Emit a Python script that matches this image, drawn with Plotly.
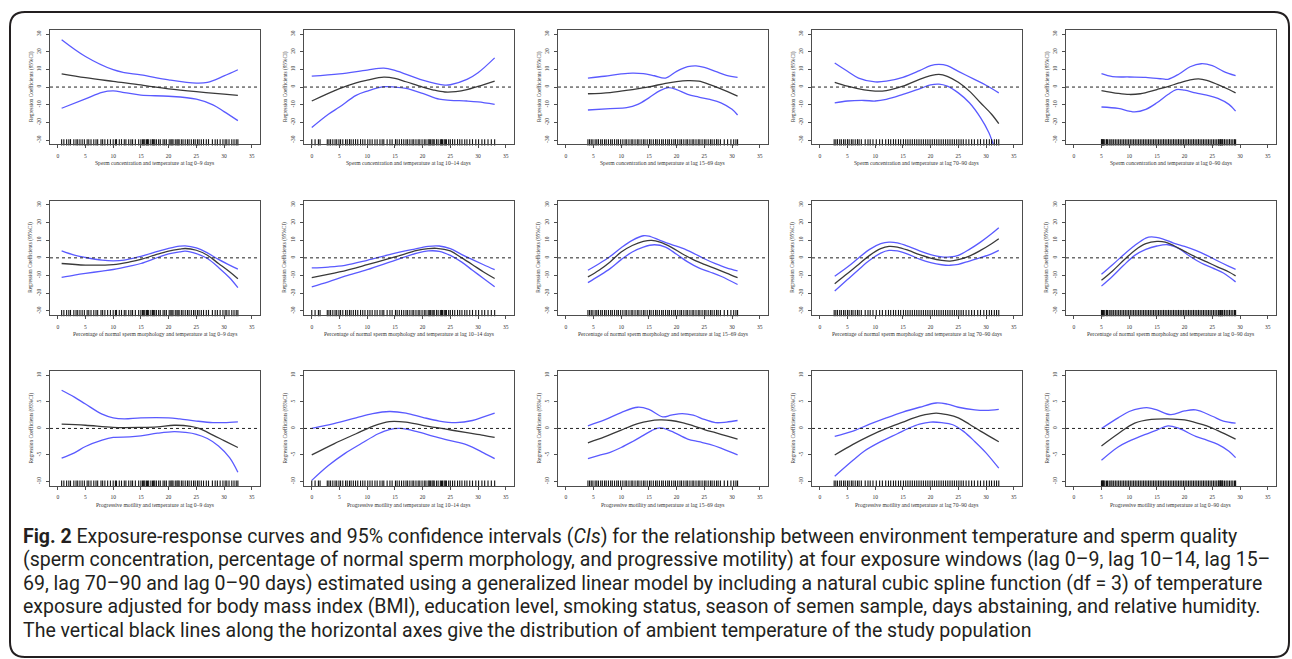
import plotly.graph_objects as go

# ---------------- data ----------------
X_TICKS = [0, 5, 10, 15, 20, 25, 30, 35]
Y_TICKS_WIDE = [-30, -20, -10, 0, 10, 20, 30]
Y_TICKS_MOT = [-10, -5, 0, 5, 10]

LAG_LABELS = ["lag 0–9 days", "lag 10–14 days", "lag 15–69 days", "lag 70–90 days", "lag 0–90 days"]
OUTCOME_LABELS = ["Sperm concentration", "Percentage of normal sperm morphology", "Progressive motility"]
Y_TITLE = "Regression Coefficients (95%CI)"

# rug: observed temperatures per exposure window
rug_lag0_9 = [0.7, 1.1, 1.6, 2.0, 2.3, 2.9, 3.3, 3.6, 4.0, 4.4, 4.8, 5.3, 5.6, 6.0, 6.5, 6.9, 7.2, 7.8, 8.1,
              8.5, 9.0, 9.5, 10.0, 10.4, 10.6, 11.1, 11.5, 12.0, 12.3, 12.8, 13.2, 13.5, 14.0, 14.6, 15.0,
              15.3, 15.5, 15.7, 16.0, 16.2, 16.4, 16.8, 17.1, 17.3, 17.5, 17.8, 18.2, 18.5, 19.0, 19.3, 19.6,
              20.1, 20.4, 20.6, 20.8, 21.2, 21.5, 21.7, 21.9, 22.3, 22.6, 23.0, 23.4, 23.7, 24.1, 24.5,
              24.8, 25.2, 25.5, 25.9, 26.3, 26.8, 27.2, 27.9, 28.4, 28.8, 29.3, 29.8, 30.2, 30.5, 30.9,
              31.4, 31.8, 32.2, 32.5]
rug_lag10_14 = [0.0, 0.6, 1.2, 1.5, 2.8, 3.1, 3.4, 3.8, 4.2, 4.5, 4.9, 5.2, 5.6, 6.1, 6.4, 6.8, 7.1, 7.5,
                7.9, 8.3, 8.8, 9.2, 9.6, 10.1, 10.5, 10.9, 11.4, 11.8, 12.3, 12.7, 13.0, 13.6, 14.1, 14.5,
                15.1, 15.4, 15.8, 16.2, 16.6, 17.0, 17.3, 17.7, 18.1, 18.4, 18.8, 19.2, 19.5, 19.9, 20.3,
                20.6, 21.0, 21.2, 21.4, 21.7, 21.9, 22.1, 22.5, 22.8, 23.2, 23.4, 23.6, 23.9, 24.1, 24.3,
                24.7, 25.0, 25.4, 25.8, 26.3, 26.7, 27.1, 27.6, 28.0, 28.5, 29.0, 29.6, 30.1, 30.7, 31.2,
                31.8, 32.4, 33.0]
rug_lag15_69 = [4.0, 4.3, 4.6, 4.9, 5.3, 5.6, 5.9, 6.3, 6.6, 7.0, 7.3, 7.7, 8.1, 8.4, 8.8, 9.2, 9.5, 9.9,
                10.3, 10.7, 11.0, 11.4, 11.8, 12.1, 12.5, 12.9, 13.2, 13.6, 14.0, 14.3, 14.7, 15.1, 15.4,
                15.8, 16.2, 16.5, 16.9, 17.3, 17.6, 18.0, 18.4, 18.7, 19.1, 19.5, 19.8, 20.2, 20.6, 20.9,
                21.3, 21.7, 22.0, 22.4, 22.8, 23.1, 23.5, 23.9, 24.2, 24.6, 25.0, 25.3, 25.7, 26.1, 26.4,
                26.8, 27.2, 27.5, 27.9, 28.6, 29.2, 29.8, 30.3, 30.7, 31.0]
rug_lag70_90 = [2.6, 2.9, 3.2, 3.6, 3.9, 4.3, 4.6, 5.0, 5.3, 5.7, 6.0, 6.4, 6.8, 7.1, 7.5, 8.2, 8.7, 9.1,
                9.6, 10.2, 10.8, 11.3, 11.9, 12.4, 12.8, 13.3, 13.7, 14.2, 14.6, 15.1, 15.5, 15.9, 16.3,
                16.7, 17.1, 17.5, 17.9, 18.3, 18.7, 19.1, 19.5, 19.9, 20.3, 20.7, 21.1, 21.5, 21.9, 22.3,
                22.7, 23.1, 23.5, 23.9, 24.3, 24.7, 25.1, 25.5, 25.9, 26.4, 26.9, 27.4, 27.9, 28.5, 29.0,
                29.6, 30.1, 30.6, 31.0, 31.5, 31.9, 32.3]
rug_lag0_90 = [5.0, 5.1, 5.2, 5.3, 5.4, 5.6, 5.9, 6.1, 6.4, 6.7, 6.9, 7.2, 7.5, 7.8, 8.1, 8.4, 8.7, 9.0, 9.3,
               9.6, 9.9, 10.2, 10.5, 10.8, 11.1, 11.4, 11.7, 12.0, 12.3, 12.6, 12.9, 13.2, 13.5, 13.8, 14.1,
               14.4, 14.7, 15.0, 15.3, 15.6, 15.9, 16.2, 16.5, 16.8, 17.1, 17.4, 17.7, 18.0, 18.3, 18.6,
               18.9, 19.2, 19.5, 19.8, 20.1, 20.4, 20.7, 21.0, 21.3, 21.6, 21.9, 22.2, 22.5, 22.8, 23.1,
               23.4, 23.7, 24.0, 24.3, 24.6, 24.9, 25.2, 25.5, 25.8, 26.1, 26.2, 26.4, 26.5, 26.6, 26.8,
               26.9, 27.2, 27.5, 27.8, 28.1, 28.4, 28.7, 29.0, 29.2]
RUGS = [rug_lag0_9, rug_lag10_14, rug_lag15_69, rug_lag70_90, rug_lag0_90]

# ---- Row 1: sperm concentration ----
conc_lag0_9 = dict(
    upper=([0.7, 5, 10, 12, 15, 20, 25, 27, 30, 32.5], [26.8, 17.3, 9.8, 8.2, 6.9, 4.1, 2.2, 2.6, 6.3, 9.8]),
    fit=([0.7, 5, 10, 15, 17, 20, 25, 30, 32.5], [7.5, 5.3, 3.2, 1.2, 0.2, -1.0, -2.6, -4.0, -4.7]),
    lower=([0.7, 5, 8, 10, 12, 15, 20, 25, 28, 30, 32.5], [-12.0, -6.7, -3.0, -2.2, -3.1, -4.6, -5.2, -6.9, -10.1, -13.9, -19.0]),
)
conc_lag10_14 = dict(
    upper=([0, 5, 10, 13, 15, 20, 24, 25, 28, 30, 33], [6.2, 7.5, 9.6, 10.7, 9.4, 3.9, 1.1, 1.3, 4.3, 8.1, 16.5]),
    fit=([0, 5, 8, 10, 13, 15, 17, 20, 22, 24, 26, 28, 30, 33], [-7.9, -0.9, 2.4, 3.9, 5.6, 4.9, 3.0, 0.0, -1.7, -2.8, -2.6, -1.5, 0.4, 3.4]),
    lower=([0, 3, 5, 8, 10, 13, 15, 17, 20, 23, 25, 28, 30, 33], [-22.9, -15.4, -11.3, -4.7, -2.3, 0.2, 0.0, -0.8, -3.6, -6.9, -7.5, -7.9, -8.4, -9.8]),
)
conc_lag15_69 = dict(
    upper=([4, 7, 10, 12, 14, 16, 18, 20, 22, 23.5, 25, 27, 29, 31], [5.1, 6.1, 7.4, 7.9, 7.6, 6.4, 5.1, 8.9, 11.5, 12.0, 11.1, 8.9, 6.6, 5.5]),
    fit=([4, 8, 12, 15, 18, 20, 22, 24, 26, 28, 31], [-3.8, -3.1, -1.4, 0.1, 2.1, 3.1, 3.6, 3.3, 1.4, -1.0, -5.1]),
    lower=([4, 8, 11, 13, 15, 17, 18.5, 20, 22, 24, 26, 28, 30, 31], [-13.0, -12.2, -11.7, -9.8, -6.1, -2.0, -0.3, -1.4, -4.2, -5.7, -7.0, -8.9, -12.6, -15.8]),
)
conc_lag70_90 = dict(
    upper=([2.7, 5, 7, 10, 12, 15, 18, 20, 21.5, 23, 25, 28, 30, 32.3], [13.6, 8.9, 5.1, 2.9, 3.3, 5.5, 9.3, 12.1, 12.8, 12.1, 8.9, 4.2, 1.0, -3.3]),
    fit=([2.7, 5, 8, 10, 12, 15, 18, 20, 21.5, 23, 25, 27, 29, 31, 32.3], [2.7, 0.5, -1.6, -2.3, -2.0, 0.5, 4.4, 6.4, 7.2, 6.1, 2.7, -2.3, -8.9, -15.4, -20.7]),
    lower=([2.7, 5, 8, 10, 12, 15, 18, 20, 21.5, 23, 25, 27, 29, 30.5, 31.3, 32.3], [-8.9, -7.9, -7.6, -7.9, -7.0, -4.2, -1.0, 1.2, 1.6, 0.5, -3.3, -8.9, -17.3, -25.7, -32.2, -40.0]),
)
conc_lag0_90 = dict(
    upper=([5, 7, 10, 13, 16, 17, 19, 21, 23, 25, 27, 29.2], [7.6, 5.9, 5.7, 5.5, 4.6, 4.4, 7.4, 11.5, 13.2, 12.1, 8.9, 6.4]),
    fit=([5, 8, 10, 12, 15, 17, 19, 21, 22.5, 24, 26, 28, 29.2], [-2.0, -3.6, -4.2, -3.8, -1.4, 0.3, 2.3, 4.0, 4.6, 3.8, 1.4, -1.4, -3.3]),
    lower=([5, 8, 10, 11, 13, 15, 17, 18.5, 20, 22, 24, 26, 28, 29.2], [-11.3, -12.1, -13.6, -14.1, -12.6, -8.9, -4.2, -1.4, -1.8, -3.3, -4.6, -6.4, -9.8, -13.6]),
)

# ---- Row 2: normal morphology ----
morph_lag0_9 = dict(
    upper=([0.7, 3, 5, 8, 10, 12, 15, 18, 20, 22, 23, 25, 27, 29, 31, 32.5], [3.9, 1.5, 0.2, -1.3, -1.7, -1.3, 0.9, 3.6, 5.3, 6.6, 6.8, 5.6, 2.8, -0.9, -4.1, -6.4]),
    fit=([0.7, 5, 10, 13, 15, 18, 20, 22, 23, 25, 27, 29, 31, 32.5], [-3.2, -4.1, -3.8, -2.3, -0.9, 2.1, 3.8, 4.9, 5.3, 4.3, 1.5, -3.2, -7.9, -11.8]),
    lower=([0.7, 3, 5, 8, 10, 13, 15, 18, 20, 22, 23, 25, 27, 29, 31, 32.5], [-11.1, -9.8, -8.8, -7.5, -6.6, -4.7, -3.2, 0.2, 2.3, 3.4, 3.8, 2.4, -0.4, -5.4, -11.3, -16.9]),
)
morph_lag10_14 = dict(
    upper=([0, 3, 6, 10, 14, 18, 21, 23, 25, 27, 29, 31, 33], [-5.7, -5.2, -4.2, -1.4, 1.8, 4.6, 6.5, 6.7, 5.2, 2.0, -1.0, -3.9, -6.7]),
    fit=([0, 5, 10, 15, 19, 21, 22.5, 25, 27, 29, 31, 33], [-11.2, -8.0, -3.9, 0.5, 4.2, 5.2, 5.4, 3.9, 0.1, -3.9, -8.0, -11.7]),
    lower=([0, 3, 6, 10, 15, 19, 21, 23, 25, 27, 29, 31, 33], [-16.4, -13.6, -10.4, -6.7, -1.4, 2.7, 3.9, 3.7, 1.4, -2.3, -7.0, -11.7, -16.4]),
)
morph_lag15_69 = dict(
    upper=([4, 6, 8, 10, 12, 14, 15, 17, 19, 21, 23, 25, 27, 29, 31], [-7.0, -3.3, 0.8, 5.7, 9.9, 12.5, 12.3, 9.9, 7.6, 5.5, 2.7, -0.5, -3.3, -5.7, -7.4]),
    fit=([4, 6, 8, 10, 12, 14, 15.5, 17, 19, 21, 23, 25, 27, 29, 31], [-10.8, -7.0, -2.3, 3.3, 7.0, 9.3, 9.9, 8.9, 6.1, 2.3, -1.0, -3.7, -6.1, -8.6, -11.2]),
    lower=([4, 6, 8, 10, 12, 14, 16, 18, 20, 22, 24, 26, 28, 31], [-14.0, -10.2, -6.1, -1.0, 3.3, 6.1, 7.4, 6.1, 2.0, -2.3, -5.7, -8.0, -10.4, -15.1]),
)
morph_lag70_90 = dict(
    upper=([2.7, 5, 7, 9, 11, 12.5, 14, 16, 18, 20, 22, 23.5, 25, 27, 29, 31, 32.3], [-10.4, -5.2, -0.1, 4.8, 8.0, 8.9, 8.5, 6.5, 3.9, 1.8, 0.5, 0.5, 1.4, 4.8, 8.9, 13.6, 17.0]),
    fit=([2.7, 5, 7, 9, 11, 12.5, 14, 16, 18, 20, 22, 23.5, 25, 27, 29, 31, 32.3], [-14.6, -8.9, -3.7, 1.4, 5.2, 6.5, 6.1, 4.2, 1.8, -0.1, -1.4, -1.8, -1.0, 1.0, 4.2, 8.0, 10.8]),
    lower=([2.7, 5, 7, 9, 11, 12.5, 14, 16, 18, 20, 22, 23.5, 25, 27, 29, 31, 32.3], [-18.7, -12.3, -6.7, -1.4, 2.7, 4.2, 3.9, 2.0, -0.7, -2.7, -3.9, -4.2, -3.7, -1.8, 0.1, 2.3, 4.2]),
)
morph_lag0_90 = dict(
    upper=([5, 7, 9, 11, 13, 14, 16, 18, 20, 22, 24, 26, 28, 29.2], [-9.3, -3.9, 1.8, 7.0, 11.2, 11.9, 10.8, 8.4, 6.5, 4.2, 1.4, -1.8, -4.8, -6.5]),
    fit=([5, 7, 9, 11, 13, 15, 16.5, 18, 20, 22, 24, 26, 28, 29.2], [-12.7, -7.4, -1.4, 4.2, 8.0, 9.3, 8.9, 7.0, 3.7, 0.5, -2.3, -5.2, -8.0, -10.2]),
    lower=([5, 7, 9, 11, 13, 15, 17, 19, 21, 23, 25, 27, 29.2], [-16.0, -10.4, -4.2, 1.4, 4.8, 6.7, 7.4, 5.2, 0.8, -2.9, -5.7, -8.6, -13.6]),
)

# ---- Row 3: progressive motility ----
mot_lag0_9 = dict(
    upper=([0.7, 3, 5, 8, 10, 12, 15, 20, 22, 25, 28, 30, 32.5], [7.2, 5.9, 4.6, 2.7, 2.0, 1.8, 2.0, 2.0, 1.8, 1.4, 1.1, 1.1, 1.25]),
    fit=([0.7, 5, 10, 15, 18, 21, 24, 25.5, 28, 30, 32.5], [0.8, 0.6, 0.2, 0.2, 0.3, 0.6, 0.4, 0.0, -1.25, -2.3, -3.6]),
    lower=([0.7, 3, 5, 8, 10, 13, 15, 18, 21, 23, 25, 27, 29, 31, 32.5], [-5.6, -4.6, -3.4, -2.2, -1.7, -1.6, -1.4, -0.9, -0.6, -0.75, -1.1, -1.9, -3.3, -5.5, -8.25]),
)
mot_lag10_14 = dict(
    upper=([0, 4, 8, 11, 14, 17, 20, 23, 26, 29, 31, 33], [0.0, 0.9, 2.0, 2.8, 3.2, 2.9, 2.1, 1.4, 1.1, 1.5, 2.2, 2.9]),
    fit=([0, 4, 8, 11, 14, 17, 20, 24, 28, 31, 33], [-5.0, -2.9, -1.0, 0.4, 1.3, 1.2, 0.6, -0.1, -0.8, -1.3, -1.7]),
    lower=([0, 3, 6, 9, 12, 14, 16, 19, 22, 25, 28, 31, 33], [-9.8, -7.0, -4.7, -2.8, -1.0, -0.2, 0.0, -0.6, -1.5, -2.3, -3.1, -4.6, -5.7]),
)
mot_lag15_69 = dict(
    upper=([4, 7, 10, 13, 15, 17.5, 19, 21, 23, 25, 27, 29, 31], [0.5, 1.6, 3.0, 4.0, 3.6, 2.2, 2.5, 2.8, 2.5, 1.7, 1.1, 1.2, 1.5]),
    fit=([4, 7, 10, 13, 15, 17, 19, 21, 23, 25, 27, 29, 31], [-2.7, -1.6, -0.3, 0.9, 1.4, 1.6, 1.5, 1.1, 0.5, -0.2, -0.8, -1.4, -2.0]),
    lower=([4, 6, 8, 10, 12, 14, 15.5, 17, 19, 22, 24, 26, 28, 31], [-5.7, -5.1, -4.5, -3.6, -2.5, -1.3, -0.4, 0.1, -0.5, -2.0, -2.5, -3.0, -3.7, -5.0]),
)
mot_lag70_90 = dict(
    upper=([2.7, 6, 9, 12, 15, 18, 21, 23, 25, 28, 30, 32.3], [-1.5, -0.5, 0.8, 2.0, 3.1, 4.0, 4.8, 4.6, 4.0, 3.5, 3.4, 3.6]),
    fit=([2.7, 6, 9, 12, 15, 17, 19, 21, 23, 25, 27, 29, 32.3], [-5.0, -3.0, -1.4, 0.0, 1.2, 2.0, 2.6, 2.9, 2.6, 2.0, 0.8, -0.5, -2.5]),
    lower=([2.7, 6, 8, 11, 14, 16, 18, 20, 22, 24, 26, 28, 30, 32.3], [-9.0, -6.0, -4.3, -2.5, -1.0, 0.0, 0.8, 1.2, 1.1, 0.7, -0.6, -2.5, -4.6, -7.5]),
)
mot_lag0_90 = dict(
    upper=([5, 8, 10, 12, 13.5, 15, 17.5, 20, 22, 25, 27, 29.2], [0.0, 2.0, 3.2, 3.8, 3.9, 3.5, 2.6, 3.3, 3.5, 2.3, 1.4, 1.0]),
    fit=([5, 8, 11, 14, 17, 20, 22, 24, 26, 29.2], [-3.3, -1.0, 1.0, 1.7, 1.8, 1.6, 1.1, 0.5, -0.4, -2.0]),
    lower=([5, 8, 10, 12, 15, 17, 19, 22, 24, 26, 28, 29.2], [-6.0, -3.5, -2.4, -1.5, -0.3, 0.5, 0.0, -1.5, -2.2, -3.0, -4.3, -5.5]),
)

PANELS = [
    [conc_lag0_9, conc_lag10_14, conc_lag15_69, conc_lag70_90, conc_lag0_90],
    [morph_lag0_9, morph_lag10_14, morph_lag15_69, morph_lag70_90, morph_lag0_90],
    [mot_lag0_9, mot_lag10_14, mot_lag15_69, mot_lag70_90, mot_lag0_90],
]
ROW_YTICKS = [Y_TICKS_WIDE, Y_TICKS_WIDE, Y_TICKS_MOT]

CAPTION_LINES = [
    "<b>Fig. 2</b> Exposure-response curves and 95% confidence intervals (<i>CIs</i>) for the relationship between environment temperature and sperm quality",
    "(sperm concentration, percentage of normal sperm morphology, and progressive motility) at four exposure windows (lag 0–9, lag 10–14, lag 15–",
    "69, lag 70–90 and lag 0–90 days) estimated using a generalized linear model by including a natural cubic spline function (df = 3) of temperature",
    "exposure adjusted for body mass index (BMI), education level, smoking status, season of semen sample, days abstaining, and relative humidity.",
    "The vertical black lines along the horizontal axes give the distribution of ambient temperature of the study population",
]

# ---------------- layout geometry (pixels) ----------------
W, H = 1292, 659
COL_LEFT = [50, 304, 558, 812, 1066]
PANEL_W = 209.5
ROW_TOP = [29.8, 200.6, 371.2]
PANEL_H = 114.5

SERIF = "Liberation Serif, Times New Roman, serif"
BLUE = "#5a5aff"
FITC = "#3a3a3a"
FRAME = "#4d4d4d"

fig = go.Figure()
layout = dict(
    width=W, height=H, margin=dict(l=0, r=0, t=0, b=0),
    paper_bgcolor="white", plot_bgcolor="white", showlegend=False,
    annotations=[], shapes=[],
)

def px2x(p):
    return p / W

def px2y(p):
    return 1 - p / H

for r in range(3):
    yt = ROW_YTICKS[r]
    span = yt[-1] - yt[0]
    ylo, yhi = yt[0] - 0.04 * span, yt[-1] + 0.04 * span
    for c in range(5):
        k = r * 5 + c + 1
        xs = "x" if k == 1 else f"x{k}"
        ys = "y" if k == 1 else f"y{k}"
        xa = "xaxis" if k == 1 else f"xaxis{k}"
        ya = "yaxis" if k == 1 else f"yaxis{k}"
        L = COL_LEFT[c]
        T = ROW_TOP[r]
        xspan = X_TICKS[-1] - X_TICKS[0]
        layout[xa] = dict(
            domain=[px2x(L), px2x(L + PANEL_W)], anchor=ys,
            range=[X_TICKS[0] - 0.04 * xspan, X_TICKS[-1] + 0.04 * xspan],
            tickvals=X_TICKS, ticktext=[str(v) for v in X_TICKS],
            ticks="outside", ticklen=3, tickwidth=0.8, tickcolor=FRAME,
            showline=True, mirror=True, linecolor=FRAME, linewidth=1,
            showgrid=False, zeroline=False, ticklabelstandoff=3,
            tickfont=dict(family=SERIF, size=5.5, color="#333"),
        )
        layout[ya] = dict(
            domain=[px2y(T + PANEL_H), px2y(T)], anchor=xs,
            range=[ylo, yhi], tickvals=yt, ticktext=[str(v) for v in yt],
            ticks="outside", ticklen=3, tickwidth=0.8, tickcolor=FRAME,
            showline=True, mirror=True, linecolor=FRAME, linewidth=1,
            showgrid=False, zeroline=False, tickangle=-90, ticklabelstandoff=3,
            tickfont=dict(family=SERIF, size=5.5, color="#333"),
        )
        p = PANELS[r][c]
        for key, col in (("upper", BLUE), ("lower", BLUE), ("fit", FITC)):
            xv, yv = p[key]
            fig.add_trace(go.Scatter(x=xv, y=yv, mode="lines", xaxis=xs, yaxis=ys,
                                     line=dict(color=col, width=1.3, shape="spline", smoothing=1.0),
                                     hoverinfo="skip"))
        # rug
        rug = RUGS[c]
        rug_y = ylo + (2.0 / PANEL_H) * (yhi - ylo)
        fig.add_trace(go.Scatter(x=rug, y=[rug_y] * len(rug), mode="markers", xaxis=xs, yaxis=ys,
                                 marker=dict(symbol="line-ns", size=4.5,
                                             line=dict(color="#111", width=1.1)),
                                 hoverinfo="skip", cliponaxis=False))
        # dotted zero reference
        layout["shapes"].append(dict(type="line", xref=f"{xs} domain", yref=ys, x0=0, x1=1, y0=0, y1=0,
                                     line=dict(color="#222", width=1, dash="dot")))
        # axis titles
        layout["annotations"].append(dict(
            text=f"{OUTCOME_LABELS[r]} and temperature at {LAG_LABELS[c]}",
            xref="paper", yref="paper", x=px2x(L + PANEL_W / 2), y=px2y(T + PANEL_H + 19),
            showarrow=False, xanchor="center", yanchor="middle",
            font=dict(family=SERIF, size=5.6, color="#333")))
        layout["annotations"].append(dict(
            text=Y_TITLE, textangle=-90,
            xref="paper", yref="paper", x=px2x(L - 19), y=px2y(T + PANEL_H / 2),
            showarrow=False, xanchor="center", yanchor="middle",
            font=dict(family=SERIF, size=5.3, color="#333")))

# caption
CAP_FONT = "Roboto, Liberation Sans, sans-serif"
for i, line in enumerate(CAPTION_LINES):
    layout["annotations"].append(dict(
        text=line, xref="paper", yref="paper", x=px2x(21), y=px2y(536 + i * 23.5),
        showarrow=False, xanchor="left", yanchor="middle",
        font=dict(family=CAP_FONT, size=19.5, color="#231f20")))

# rounded outer frame
x0, x1, y0, y1, rad = 10, 1289, 12, 657, 15
rx, ry = rad / W, rad / H
X0, X1, Y0, Y1 = px2x(x0), px2x(x1), px2y(y0), px2y(y1)
path = (f"M {X0+rx},{Y0} L {X1-rx},{Y0} Q {X1},{Y0} {X1},{Y0-ry} "
        f"L {X1},{Y1+ry} Q {X1},{Y1} {X1-rx},{Y1} L {X0+rx},{Y1} Q {X0},{Y1} {X0},{Y1+ry} "
        f"L {X0},{Y0-ry} Q {X0},{Y0} {X0+rx},{Y0} Z")
layout["shapes"].append(dict(type="path", xref="paper", yref="paper", path=path,
                             line=dict(color="#231f20", width=2)))

fig.update_layout(**layout)
fig.write_html("out.html", config={"displayModeBar": False},
               post_script="document.body.style.margin='0';document.body.style.padding='0';"
                           "document.documentElement.style.overflow='hidden';")
